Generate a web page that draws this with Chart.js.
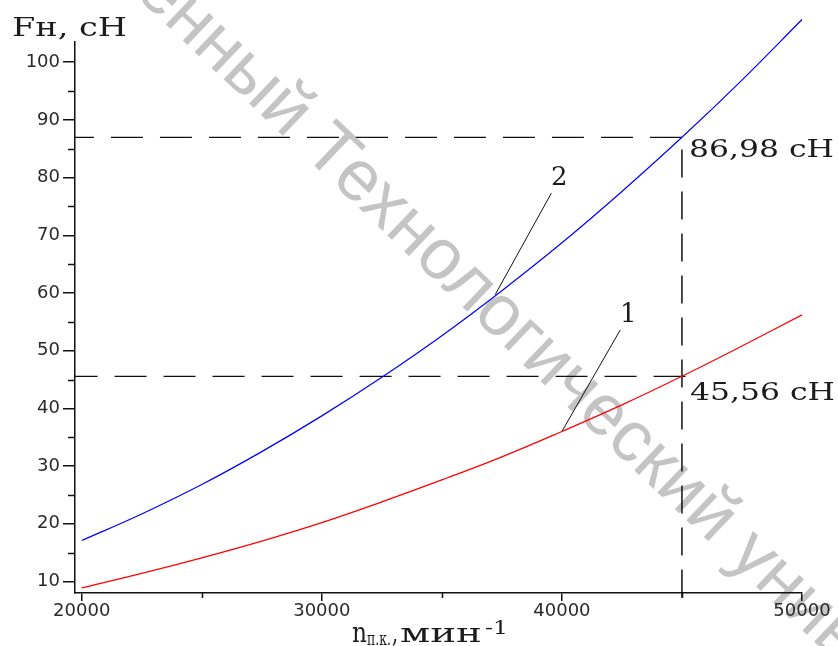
<!DOCTYPE html>
<html lang="ru">
<head>
<meta charset="utf-8">
<title>Fн от nп.к.</title>
<script src="https://cdn.jsdelivr.net/npm/chart.js@4.4.1/dist/chart.umd.min.js"></script>
<style>
    html, body { margin: 0; padding: 0; background: #ffffff; }
    #contenedor { width: 838px; height: 646px; position: relative; }
</style>
</head>
<body>
<div id="contenedor"><canvas id="grafica"></canvas></div>
<script>
// --- Datos ---
// частота вращения прядильной камеры, мин-1
const oborotyKamery = [20000, 22500, 25000, 27500, 30000, 32500, 35000, 37500, 40000, 42500, 45000, 47500, 50000];
// кривая 2 (синяя), сН
const silaKrivaya2 = [17.1, 21.7, 26.8, 32.5, 38.7, 45.4, 52.6, 60.4, 68.7, 77.6, 86.98, 96.9, 107.4];
// кривая 1 (красная), сН
const silaKrivaya1 = [8.9, 11.4, 14.1, 17.0, 20.2, 23.8, 27.6, 31.6, 36.0, 40.6, 45.56, 50.8, 56.2];

// ticks de los ejes (los de 5 son marcas menores sin texto)
const ticksX = [20000, 25000, 30000, 35000, 40000, 45000, 50000];
const ticksY = [10, 15, 20, 25, 30, 35, 40, 45, 50, 55, 60, 65, 70, 75, 80, 85, 90, 95, 100];

// punto marcado con lineas discontinuas
const oborotyMetka = 45000;
const silaMetka2 = 86.98;
const silaMetka1 = 45.56;
const textoMetka2 = '86,98 cH';
const textoMetka1 = '45,56 cH';

// lineas guia de los numeros de curva
const vynoska2 = [{ x: 37220, y: 59.7 }, { x: 39560, y: 77.3 }];
const vynoska1 = [{ x: 40000, y: 36.0 }, { x: 42430, y: 53.6 }];

const X_MIN = 19720, X_MAX = 50000;
const Y_MIN = 8, Y_MAX = 103.5;

const serif = "'DejaVu Serif', 'Liberation Serif', serif";
const colorTexto = '#1c1c1c';

// texto estirado a un ancho dado (el original viene ensanchado)
function textoAncho(ctx, txt, x, yBase, font, ancho) {
    ctx.font = font;
    const w = ctx.measureText(txt).width;
    ctx.save();
    ctx.translate(x, yBase);
    ctx.scale(ancho / w, 1);
    ctx.textAlign = 'left';
    ctx.textBaseline = 'alphabetic';
    ctx.fillText(txt, 0, 0);
    ctx.restore();
}

const pluginDibujo = {
    id: 'dibujo',
    beforeDraw(chart) {
        // marca de agua gris en diagonal
        const ctx = chart.ctx;
        ctx.save();
        ctx.translate(147, -21);
        ctx.rotate(43.6 * Math.PI / 180);
        ctx.font = "72px 'Liberation Sans', Arial, sans-serif";
        ctx.fillStyle = '#c4c4c4';
        ctx.textAlign = 'left';
        ctx.textBaseline = 'middle';
        ctx.fillText('енный Технологический университет', 0, 0);
        ctx.restore();
    },
    afterDraw(chart) {
        const ctx = chart.ctx;
        const area = chart.chartArea;
        const sx = chart.scales.x;
        const sy = chart.scales.y;

        // marcas menores
        ctx.save();
        ctx.strokeStyle = '#111';
        ctx.lineWidth = 1.5;
        ctx.beginPath();
        ticksY.filter(v => v % 10 !== 0).forEach(v => {
            const y = Math.round(sy.getPixelForValue(v)) + 0.5;
            ctx.moveTo(area.left - 7, y);
            ctx.lineTo(area.left, y);
        });
        ticksX.filter(v => v % 10000 !== 0).forEach(v => {
            const x = Math.round(sx.getPixelForValue(v)) + 0.5;
            ctx.moveTo(x, area.bottom);
            ctx.lineTo(x, area.bottom + 5);
        });
        ctx.stroke();
        ctx.restore();

        ctx.save();
        ctx.fillStyle = colorTexto;

        // titulo del eje Y
        textoAncho(ctx, 'Fн, cH', 12, 36, '26px ' + serif, 115);

        // valores en las lineas discontinuas
        const xm = sx.getPixelForValue(oborotyMetka);
        textoAncho(ctx, textoMetka2, xm + 7, sy.getPixelForValue(silaMetka2) + 20, '24px ' + serif, 145);
        textoAncho(ctx, textoMetka1, xm + 8, sy.getPixelForValue(silaMetka1) + 24, '24px ' + serif, 145);

        // numeros de curva
        ctx.font = '26px ' + serif;
        ctx.textAlign = 'center';
        ctx.textBaseline = 'alphabetic';
        const p2 = vynoska2[1], p1 = vynoska1[1];
        ctx.fillText('2', sx.getPixelForValue(p2.x) + 8, sy.getPixelForValue(p2.y) - 8);
        ctx.fillText('1', sx.getPixelForValue(p1.x) + 8, sy.getPixelForValue(p1.y) - 8);

        // titulo del eje X: n п.к., мин^-1
        textoAncho(ctx, 'n', 352, 642, '28px ' + serif, 15);
        textoAncho(ctx, 'п.к.', 367, 645, '18px ' + serif, 24);
        textoAncho(ctx, ',', 392, 642, '28px ' + serif, 6);
        textoAncho(ctx, 'мин', 400, 642, '26px ' + serif, 82);
        textoAncho(ctx, '-1', 485, 634, '19px ' + serif, 23);
        ctx.restore();
    }
};

const puntos = (xs, ys) => xs.map((x, i) => ({ x: x, y: ys[i] }));

new Chart(document.getElementById('grafica').getContext('2d'), {
    type: 'line',
    data: {
        datasets: [
            {
                label: '2',
                data: puntos(oborotyKamery, silaKrivaya2),
                borderColor: '#0000ff',
                borderWidth: 1.2,
                pointRadius: 0,
                tension: 0.4,
                clip: false
            },
            {
                label: '1',
                data: puntos(oborotyKamery, silaKrivaya1),
                borderColor: '#ff0000',
                borderWidth: 1.2,
                pointRadius: 0,
                tension: 0.4,
                clip: false
            },
            {
                // horizontal superior, dibujada de derecha a izquierda
                data: [{ x: oborotyMetka, y: silaMetka2 }, { x: X_MIN, y: silaMetka2 }],
                borderColor: '#111',
                borderWidth: 1.3,
                borderDash: [32, 17],
                pointRadius: 0,
                clip: false
            },
            {
                data: [{ x: oborotyMetka + 150, y: silaMetka1 }, { x: X_MIN, y: silaMetka1 }],
                borderColor: '#111',
                borderWidth: 1.3,
                borderDash: [32, 17],
                pointRadius: 0,
                clip: false
            },
            {
                // vertical, desde abajo
                data: [{ x: oborotyMetka, y: Y_MIN - 0.8 }, { x: oborotyMetka, y: silaMetka2 }],
                borderColor: '#111',
                borderWidth: 1.5,
                borderDash: [28, 14],
                pointRadius: 0,
                clip: false
            },
            {
                data: vynoska2,
                borderColor: '#111',
                borderWidth: 1,
                pointRadius: 0
            },
            {
                data: vynoska1,
                borderColor: '#111',
                borderWidth: 1,
                pointRadius: 0
            }
        ]
    },
    options: {
        responsive: true,
        maintainAspectRatio: false,
        animation: false,
        devicePixelRatio: 1,
        layout: { padding: { top: 42, right: 36, left: 0, bottom: 0 } },
        plugins: {
            legend: { display: false },
            tooltip: { enabled: false }
        },
        scales: {
            x: {
                type: 'linear',
                min: X_MIN,
                max: X_MAX,
                afterBuildTicks: (scale) => { scale.ticks = ticksX.map(v => ({ value: v })); },
                afterFit: (scale) => { scale.height = 53; },
                border: { display: true, color: '#111', width: 1.5 },
                grid: {
                    drawOnChartArea: false,
                    tickLength: 8,
                    lineWidth: 1.5,
                    tickColor: (c) => (c.tick && c.tick.value % 10000 === 0) ? '#111' : 'rgba(0,0,0,0)'
                },
                ticks: {
                    autoSkip: false,
                    maxRotation: 0,
                    padding: 0,
                    color: '#2a2a2a',
                    font: { family: "'DejaVu Sans', sans-serif", size: 18 },
                    callback: (v) => v % 10000 === 0 ? String(v) : ''
                }
            },
            y: {
                type: 'linear',
                min: Y_MIN,
                max: Y_MAX,
                afterBuildTicks: (scale) => { scale.ticks = ticksY.map(v => ({ value: v })); },
                afterFit: (scale) => { scale.width = 75; },
                border: { display: true, color: '#111', width: 1.5 },
                grid: {
                    drawOnChartArea: false,
                    tickLength: 12,
                    lineWidth: 1.5,
                    tickColor: (c) => (c.tick && c.tick.value % 10 === 0) ? '#111' : 'rgba(0,0,0,0)'
                },
                ticks: {
                    autoSkip: false,
                    padding: 3,
                    color: '#2a2a2a',
                    font: { family: "'DejaVu Sans', sans-serif", size: 18 },
                    callback: (v) => v % 10 === 0 ? String(v) : ''
                }
            }
        }
    },
    plugins: [pluginDibujo]
});
</script>
</body>
</html>
